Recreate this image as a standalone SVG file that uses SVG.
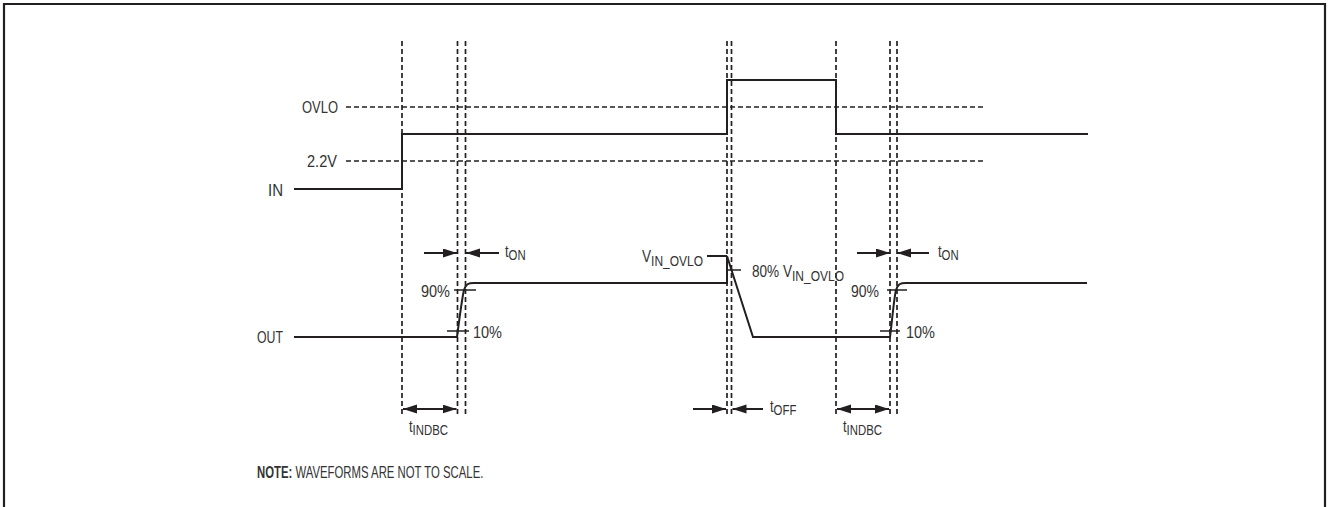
<svg xmlns="http://www.w3.org/2000/svg" width="1329" height="507" viewBox="0 0 1329 507">
  <defs>
    <style>
      .frame{fill:none;stroke:#231f20;stroke-width:2.2}
      .dash{fill:none;stroke:#231f20;stroke-width:1.7;stroke-dasharray:5 3}
      .wave{fill:none;stroke:#231f20;stroke-width:2;stroke-linejoin:miter}
      .tick{fill:none;stroke:#231f20;stroke-width:1.3}
      .arr{fill:none;stroke:#231f20;stroke-width:2}
      .t{font-family:"Liberation Sans",Arial,sans-serif;font-size:17px;fill:#333}
      .s{font-size:15px}
      .b{font-weight:bold}
    </style>
    <marker id="ah" markerUnits="userSpaceOnUse" markerWidth="16" markerHeight="10" refX="14" refY="4.5" orient="auto-start-reverse">
      <path d="M0,0 L14,4.5 L0,9 Z" fill="#231f20"/>
    </marker>
  </defs>
  <rect width="1329" height="507" fill="#fff"/>
  <path class="frame" d="M4,507 V4 H1325 V507"/>

  <g id="gridlines">
    <path class="dash" d="M346,107 H985 M346,161 H985"/>
    <path class="dash" d="M402,41 V416 M457.5,41 V416 M465.5,41 V416 M727,41 V416 M731.5,41 V416 M836,41 V416 M890,41 V416 M897,41 V416"/>
  </g>

  <g id="in-wave">
    <path class="wave" d="M294,189 H402 V134 H727 V80 H836 V134 H1088"/>
  </g>

  <g id="out-wave">
    <path class="wave" d="M294,337 H457 C459,322 462,298 464,290 C466,284 468,283 474,283 H727 V256 L753,337 H890 C892,322 894,298 896,290 C898,284 900,283 906,283 H1087"/>
    <path class="wave" d="M707,256 H727"/>
    <path class="tick" d="M454,290 H476 M447,331 H469 M887,290 H907 M880,331 H900 M727,270 H741"/>
  </g>

  <g id="connectors">
    <path class="arr" marker-end="url(#ah)" d="M424,253 H457"/>
    <path class="arr" marker-end="url(#ah)" d="M499,253 H466"/>
    <path class="arr" marker-end="url(#ah)" d="M857,253 H890"/>
    <path class="arr" marker-end="url(#ah)" d="M929,253 H897"/>
    <path class="arr" marker-end="url(#ah)" d="M693,409 H726"/>
    <path class="arr" marker-end="url(#ah)" d="M763,409 H732.5"/>
    <path class="arr" marker-start="url(#ah)" marker-end="url(#ah)" d="M403,409 H456.5"/>
    <path class="arr" marker-start="url(#ah)" marker-end="url(#ah)" d="M837,409 H889"/>
  </g>

  <g id="labels">
    <text class="t" x="302" y="113" textLength="36" lengthAdjust="spacingAndGlyphs">OVLO</text>
    <text class="t" x="307" y="167" textLength="30" lengthAdjust="spacingAndGlyphs">2.2V</text>
    <text class="t" x="268" y="196" textLength="15" lengthAdjust="spacingAndGlyphs">IN</text>
    <text class="t" x="257" y="343" textLength="26" lengthAdjust="spacingAndGlyphs">OUT</text>
    <text class="t" x="421" y="297" textLength="29" lengthAdjust="spacingAndGlyphs">90%</text>
    <text class="t" x="473" y="338" textLength="29" lengthAdjust="spacingAndGlyphs">10%</text>
    <text class="t" x="851" y="297" textLength="28" lengthAdjust="spacingAndGlyphs">90%</text>
    <text class="t" x="906" y="338" textLength="29" lengthAdjust="spacingAndGlyphs">10%</text>
    <text class="t" transform="translate(505,257) scale(0.76,1)">t<tspan class="s" dy="3">ON</tspan></text>
    <text class="t" transform="translate(938,257) scale(0.76,1)">t<tspan class="s" dy="3">ON</tspan></text>
    <text class="t" transform="translate(642,262) scale(0.8,1)">V<tspan class="s" dy="4">IN_OVLO</tspan></text>
    <text class="t" transform="translate(752,277) scale(0.8,1)">80% V<tspan class="s" dy="4">IN_OVLO</tspan></text>
    <text class="t" transform="translate(409,432) scale(0.76,1)">t<tspan class="s" dy="3">INDBC</tspan></text>
    <text class="t" transform="translate(843,432) scale(0.76,1)">t<tspan class="s" dy="3">INDBC</tspan></text>
    <text class="t" transform="translate(770,412) scale(0.76,1)">t<tspan class="s" dy="3">OFF</tspan></text>
    <text class="t" transform="translate(257,478) scale(0.71,1)" style="font-size:16px"><tspan class="b">NOTE:</tspan> WAVEFORMS ARE NOT TO SCALE.</text>
  </g>
</svg>
